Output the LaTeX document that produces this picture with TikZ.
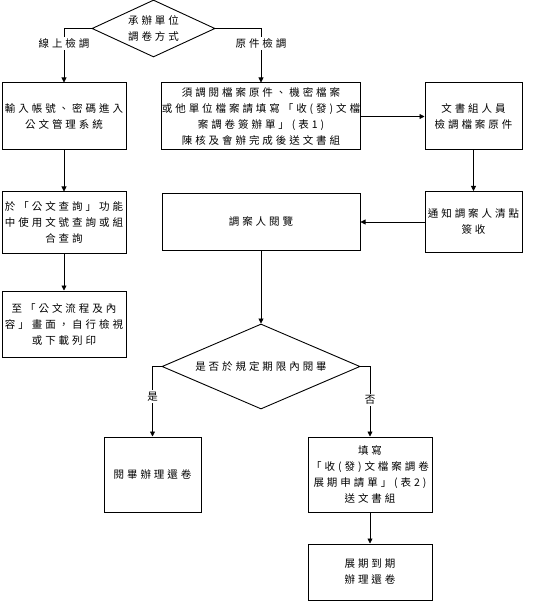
\documentclass[tikz,border=0pt]{standalone}
\usepackage{fontspec}
\setmainfont{Liberation Serif}
\newfontfamily\cjk[LetterSpace=28]{Noto Sans CJK TC}
\usetikzlibrary{shapes.geometric,arrows.meta}
\tikzset{
  box/.style={draw, line width=1pt, rectangle, inner sep=0pt, align=center, font=\cjk\fontsize{10.5}{16}\selectfont},
  dia/.style={draw, line width=0.9pt, diamond, inner sep=0pt},
  txt/.style={align=center, inner sep=0pt, font=\cjk\fontsize{10.5}{16}\selectfont},
  lab/.style={fill=white, inner sep=1.5pt, font=\cjk\fontsize{10.5}{12}\selectfont},
  arr/.style={draw, line width=0.8pt, -{Triangle[length=5pt,width=5pt]}},
}
\begin{document}
\begin{tikzpicture}[x=1pt,y=-1pt]
\useasboundingbox (0,0) rectangle (544,601);
% top decision
\node[dia, minimum width=123, minimum height=57] (d1) at (153.5,28.5) {};
\node[txt] (d1t) at (d1) {承辦單位\\調卷方式};
% row 1
\node[box, minimum width=124, minimum height=67] (b1) at (64,116.5) {輸入帳號、密碼進入\\公文管理系統};
\node[box, minimum width=198, minimum height=67] (b2) at (261,116.5) {須調閱檔案原件、機密檔案\\或他單位檔案請填寫「收(發)文檔\\案調卷簽辦單」(表1)\\陳核及會辦完成後送文書組};
\node[box, minimum width=97, minimum height=67] (b3) at (473.5,116.5) {文書組人員\\檢調檔案原件};
% row 2
\node[box, minimum width=124, minimum height=61] (l2) at (64,222.5) {於「公文查詢」功能\\中使用文號查詢或組\\合查詢};
\node[box, minimum width=198, minimum height=56] (b5) at (261,222) {調案人閱覽};
\node[box, minimum width=97, minimum height=61] (b4) at (473.5,222) {通知調案人清點\\簽收};
% row 3
\node[box, minimum width=124, minimum height=66] (l3) at (64,324) {至「公文流程及內\\容」畫面，自行檢視\\或下載列印};
% second decision
\node[dia, minimum width=198, minimum height=85] (d2) at (261,366.5) {};
\node[txt] (d2t) at (d2) {是否於規定期限內閱畢};
% outcomes
\node[box, minimum width=97, minimum height=75] (yes) at (152.5,474.5) {閱畢辦理還卷};
\node[box, minimum width=124, minimum height=75] (no) at (370,474.5) {填寫\\「收(發)文檔案調卷\\展期申請單」(表2)\\送文書組};
\node[box, minimum width=124, minimum height=56] (last) at (370,572) {展期到期\\辦理還卷};
% connectors
\draw[arr] (d1.west) -| node[lab, pos=0.64] {線上檢調} (b1.north);
\draw[arr] (d1.east) -| node[lab, pos=0.64] {原件檢調} (b2.north);
\draw[arr] (b1) -- (l2);
\draw[arr] (l2) -- (l3);
\draw[arr] (b2) -- (b3);
\draw[arr] (b3) -- (b4);
\draw[arr] (b4) -- (b5);
\draw[arr] (b5) -- (d2);
\draw[arr] (d2.west) -| node[lab, pos=0.715] {是} (yes.north);
\draw[arr] (d2.east) -| node[lab, pos=0.74] {否} (no.north);
\draw[arr] (no) -- (last);
\end{tikzpicture}
\end{document}
